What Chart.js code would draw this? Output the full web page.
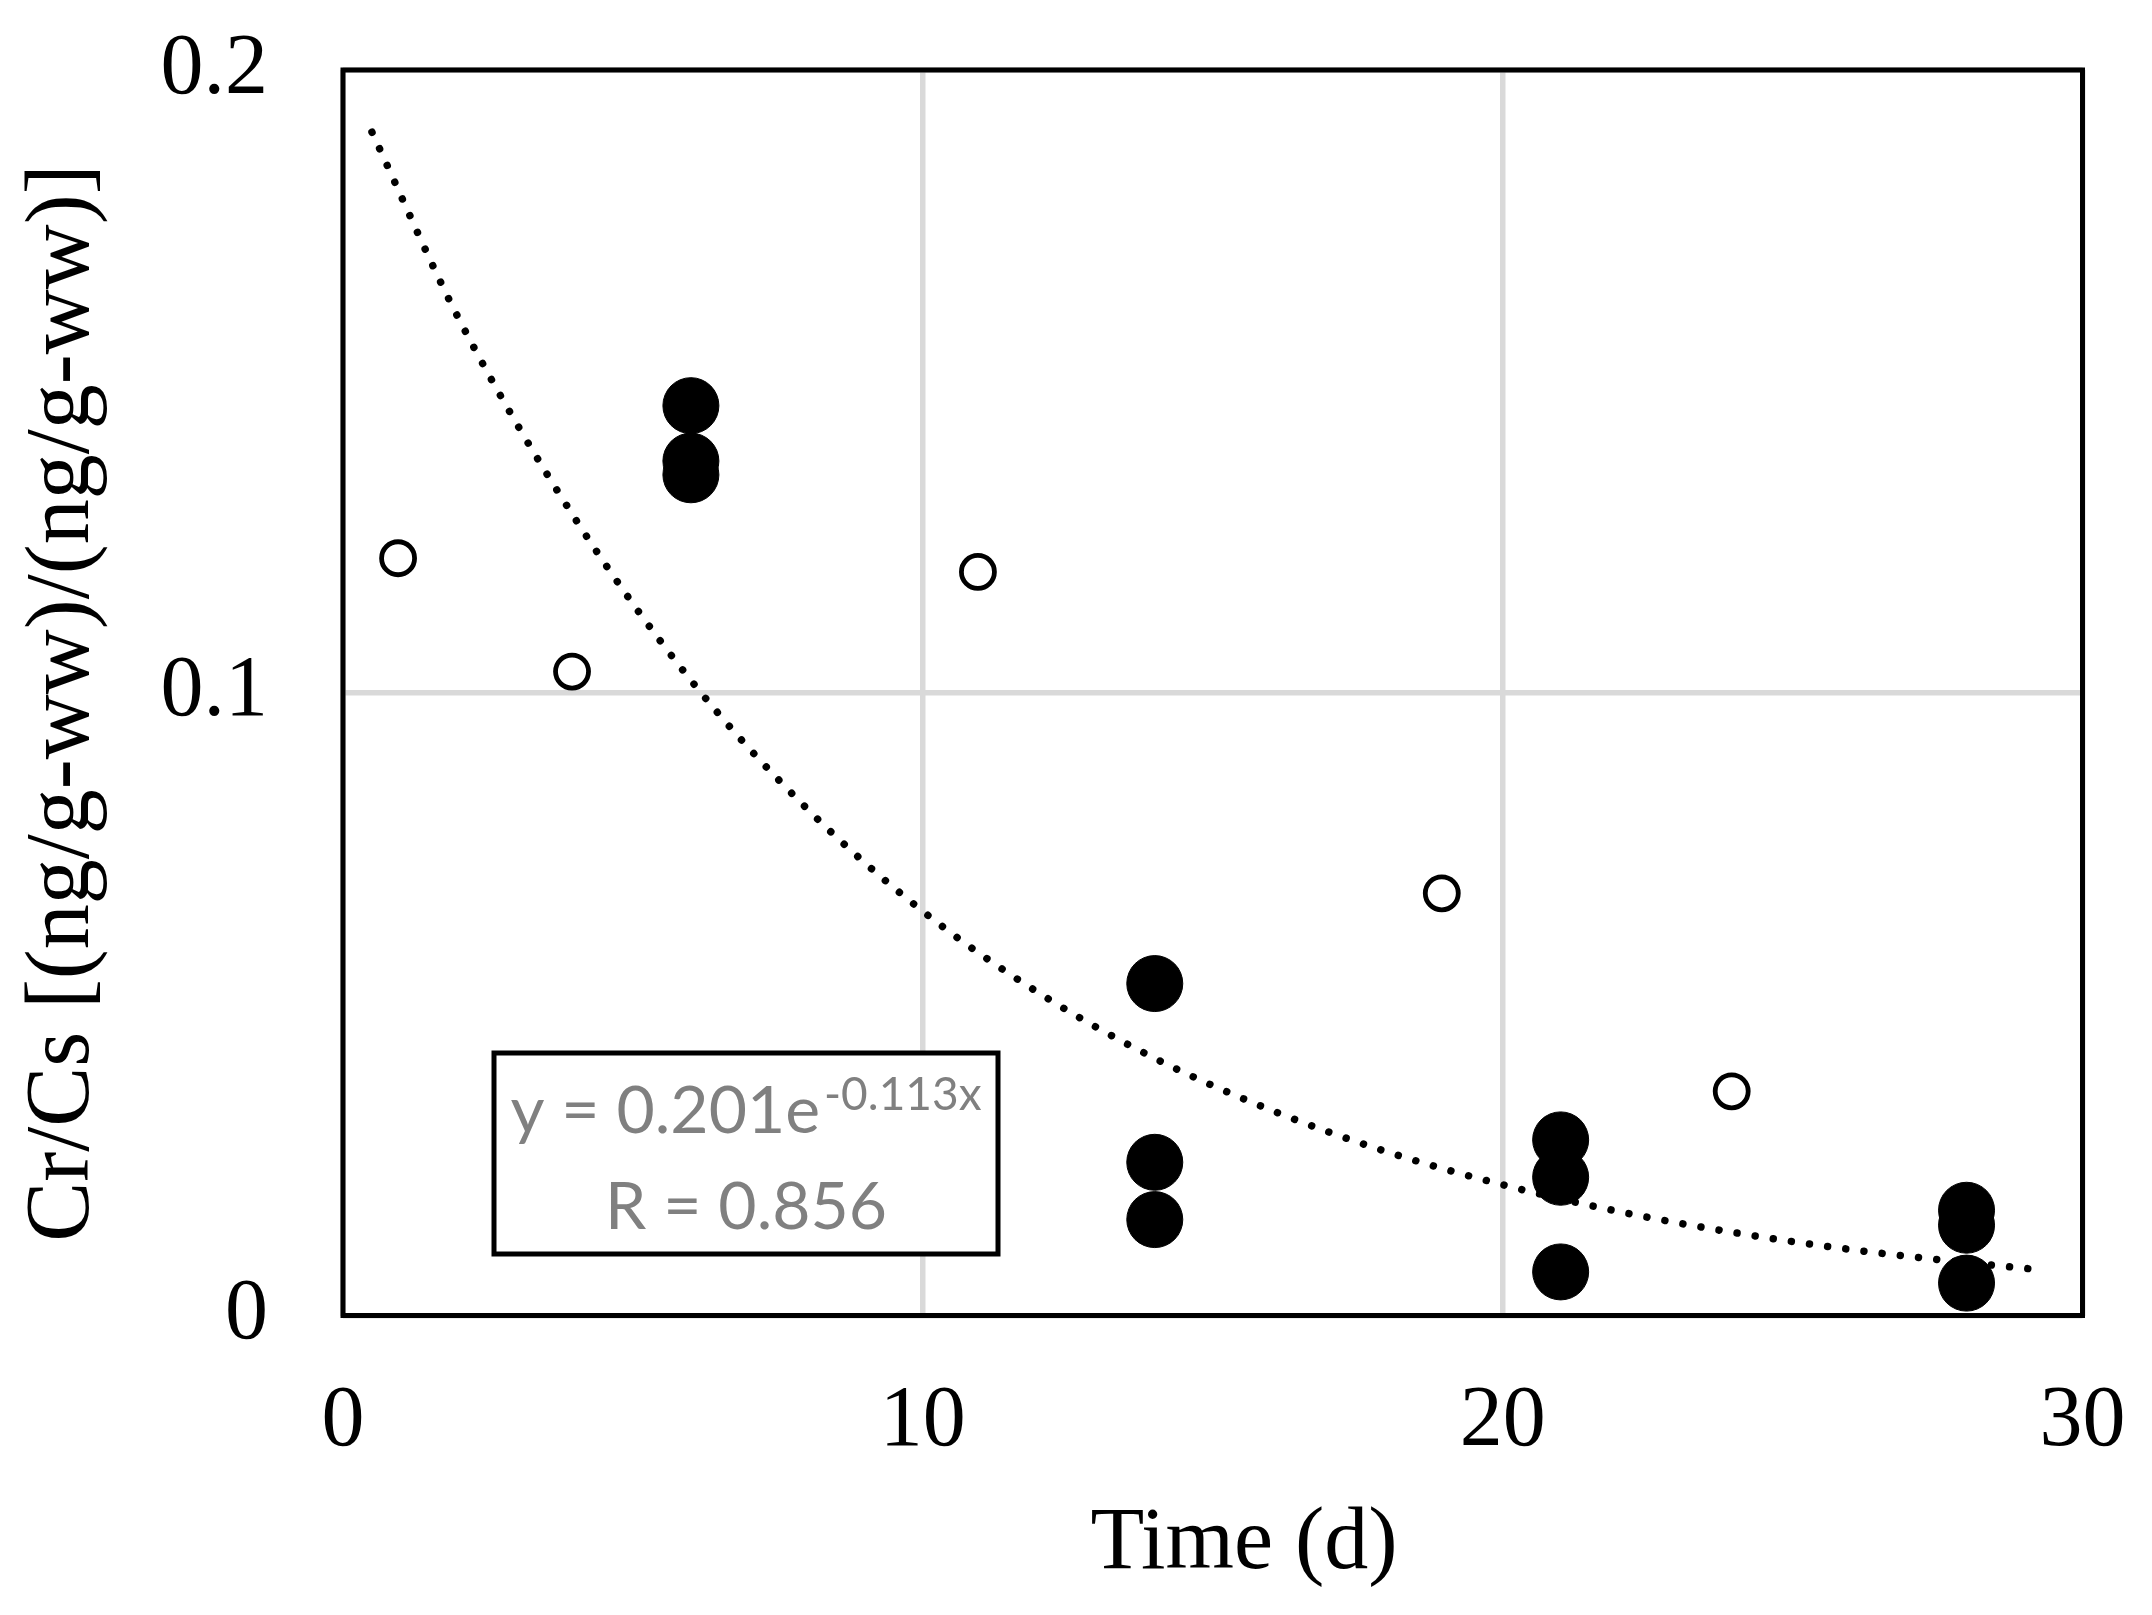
<!DOCTYPE html>
<html>
<head>
<meta charset="utf-8">
<script src="https://cdn.jsdelivr.net/npm/chart.js@4.4.1/dist/chart.umd.min.js"></script>
<style>
  body { margin: 0; background: #fff; }
  canvas { display: block; }
</style>
</head>
<body>
<canvas id="decayChart" width="2152" height="1615"></canvas>
<script>
// values
const openDays = [0.95, 3.95, 10.95, 18.95, 23.95];
const openRatio = [0.1216, 0.1034, 0.1194, 0.0678, 0.0360];

const filledDays = [6, 6, 6, 14, 14, 14, 21, 21, 21, 28, 28, 28];
const filledRatio = [0.1461, 0.1372, 0.1350, 0.0533, 0.0246, 0.0154, 0.0282, 0.0222, 0.0070, 0.0169, 0.0145, 0.0052];

// dotted exponential trend line, read at a few days
const trendDays = [0.5, 2, 4, 6, 8, 10, 12, 14, 16, 18, 20, 22, 24, 26, 28, 29.2];
const trendRatio = [0.190, 0.160, 0.128, 0.102, 0.0814, 0.0649, 0.0518, 0.0413, 0.0330, 0.0263, 0.0210, 0.0167, 0.0133, 0.0106, 0.0085, 0.0074];

const xTicks = [0, 10, 20, 30];
const yTicks = [0, 0.1, 0.2];

const xTitle = 'Time (d)';
const yTitle = 'Cr/Cs [(ng/g-ww)/(ng/g-ww)]';
const eqMain = 'y = 0.201e';
const eqSup = '-0.113x';
const eqR = 'R = 0.856';

const toPoints = (xs, ys) => xs.map((x, i) => ({ x: x, y: ys[i] }));

const serif = '"Liberation Serif", "Times New Roman", serif';

// frame, axis titles and the equation box
const extras = {
    id: 'extras',
    afterDraw(chart) {
        const ctx = chart.ctx;
        const ca = chart.chartArea;
        ctx.save();

        // plot frame
        ctx.strokeStyle = '#000';
        ctx.lineWidth = 5;
        ctx.strokeRect(ca.left, ca.top, ca.right - ca.left, ca.bottom - ca.top);

        // axis titles
        ctx.fillStyle = '#000';
        ctx.font = '88px ' + serif;
        ctx.textAlign = 'center';
        ctx.textBaseline = 'alphabetic';
        ctx.fillText(xTitle, 1244, 1568);

        ctx.save();
        ctx.font = '90px ' + serif;
        ctx.translate(88, 703);
        ctx.rotate(-Math.PI / 2);
        ctx.fillText(yTitle, 0, 0);
        ctx.restore();

        // equation box
        const bx = 494, by = 1053, bw = 504, bh = 201;
        ctx.fillStyle = '#fff';
        ctx.fillRect(bx, by, bw, bh);
        ctx.strokeStyle = '#000';
        ctx.lineWidth = 5;
        ctx.strokeRect(bx, by, bw, bh);

        const cx = bx + bw / 2;
        ctx.fillStyle = '#808080';
        ctx.textAlign = 'left';
        ctx.font = '66px Lato';
        const wMain = ctx.measureText(eqMain).width;
        ctx.font = '46px Lato';
        const wSup = ctx.measureText(eqSup).width;
        const start = cx - (wMain + 4 + wSup) / 2;
        ctx.font = '66px Lato';
        ctx.fillText(eqMain, start, 1133);
        ctx.font = '46px Lato';
        ctx.fillText(eqSup, start + wMain + 4, 1110);

        ctx.font = '66px Lato';
        ctx.textAlign = 'center';
        ctx.fillText(eqR, cx, 1229);

        ctx.restore();
    }
};

const decayConfig = {
    type: 'scatter',
    data: {
        datasets: [
            {
                label: 'filled',
                data: toPoints(filledDays, filledRatio),
                pointRadius: 28,
                pointBackgroundColor: '#000',
                pointBorderColor: '#000',
                pointBorderWidth: 1,
            },
            {
                label: 'open',
                data: toPoints(openDays, openRatio),
                pointRadius: 16.5,
                pointBackgroundColor: 'rgba(255,255,255,0)',
                pointBorderColor: '#000',
                pointBorderWidth: 4.8,
            },
            {
                label: 'trend',
                type: 'line',
                data: toPoints(trendDays, trendRatio),
                showLine: true,
                pointRadius: 0,
                borderColor: '#000',
                borderWidth: 7.5,
                borderDash: [0.01, 18.3],
                borderCapStyle: 'round',
                cubicInterpolationMode: 'monotone',
                fill: false,
            },
        ]
    },
    options: {
        responsive: false,
        animation: false,
        devicePixelRatio: 1,
        layout: { autoPadding: false, padding: { top: 70, right: 69.5, left: 0, bottom: 0 } },
        plugins: {
            legend: { display: false },
            tooltip: { enabled: false },
        },
        scales: {
            x: {
                type: 'linear',
                min: 0,
                max: 30,
                afterBuildTicks: (scale) => { scale.ticks = xTicks.map(v => ({ value: v })); },
                afterFit: (scale) => {
                    scale.height = 299.5;
                    scale.paddingLeft = 0;
                    scale.paddingRight = 0;
                },
                grid: { color: '#d9d9d9', lineWidth: 5.5, drawTicks: false },
                border: { display: false },
                ticks: {
                    color: '#000',
                    padding: 55,
                    maxRotation: 0,
                    font: { family: serif, size: 86 },
                    callback: (v) => String(v),
                },
            },
            y: {
                type: 'linear',
                min: 0,
                max: 0.2,
                afterBuildTicks: (scale) => { scale.ticks = yTicks.map(v => ({ value: v })); },
                afterFit: (scale) => {
                    scale.width = 343;
                    scale.paddingTop = 0;
                    scale.paddingBottom = 0;
                },
                grid: { color: '#d9d9d9', lineWidth: 5.5, drawTicks: false },
                border: { display: false },
                ticks: {
                    color: '#000',
                    padding: 75,
                    font: { family: serif, size: 86 },
                    callback: (v) => String(v),
                },
            },
        },
    },
    plugins: [extras],
};

const decayChart = new Chart(
    document.getElementById('decayChart'),
    decayConfig
);
</script>
</body>
</html>
